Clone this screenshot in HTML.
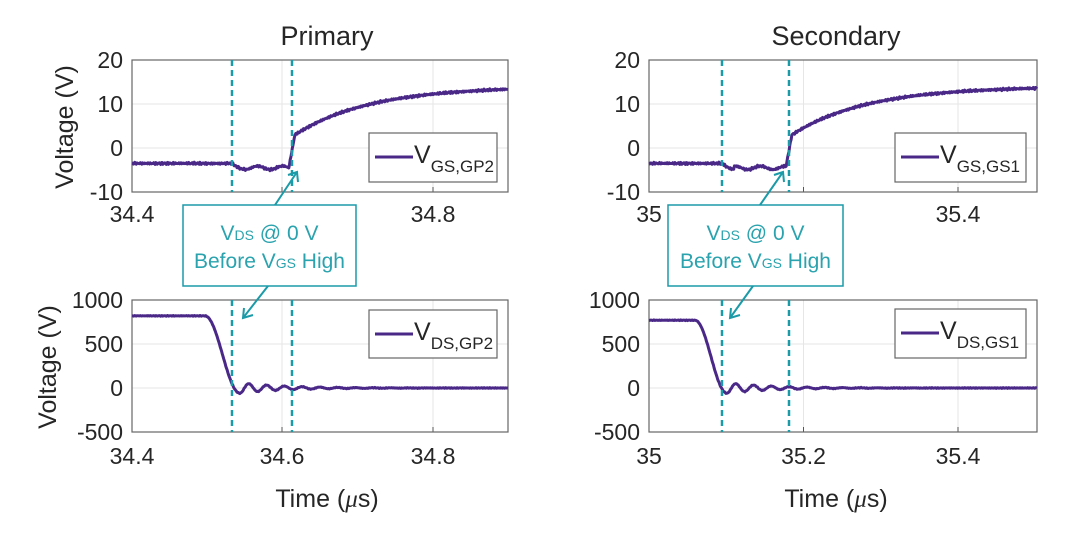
<!DOCTYPE html>
<html><head><meta charset="utf-8"><style>
body{margin:0;background:#fff;}
svg text{font-family:"Liberation Sans",sans-serif;fill:#262626;}
</style></head><body>
<svg id="s" width="1080" height="536" xmlns="http://www.w3.org/2000/svg">
<g id="g"></g>
</svg>
<script>
const g=document.getElementById('g');
let h='';
const P='#4a2888',T='#1b9aa8';
function panel(o){
 const {L,R,Tp,B,yt,xt,dash,legend,curve,ylab,xlab,title,xly}=o;
 yt.forEach(t=>{h+=`<line x1="${L}" x2="${R}" y1="${t[0]}" y2="${t[0]}" stroke="#e6e6e6"/>`;
  h+=`<text x="${L-9}" y="${t[0]+8}" font-size="23" text-anchor="end">${t[1]}</text>`;});
 xt.forEach(t=>{h+=`<line y1="${Tp}" y2="${B}" x1="${t[0]}" x2="${t[0]}" stroke="#e6e6e6"/>`;
  h+=`<line y1="${B}" y2="${B-5}" x1="${t[0]}" x2="${t[0]}" stroke="#555"/>`;
  h+=`<text x="${t[0]}" y="${xly}" font-size="23" text-anchor="middle">${t[1]}</text>`;});
 h+=`<rect x="${L}" y="${Tp}" width="${R-L}" height="${B-Tp}" fill="none" stroke="#666" stroke-width="1.2"/>`;
 let d='';
 for(let x=L;x<=R;x+=0.7){let y=curve(x);d+=(x==L?'M':'L')+x.toFixed(1)+' '+y.toFixed(1);}
 h+=`<path d="${d}" fill="none" stroke="${P}" stroke-width="3" stroke-linejoin="round"/>`;
 dash.forEach(x=>h+=`<line x1="${x}" x2="${x}" y1="${Tp}" y2="${B}" stroke="${T}" stroke-width="2.5" stroke-dasharray="6,4"/>`);
 const [lx,ly,lw,lh]=legend[0];
 h+=`<rect x="${lx}" y="${ly}" width="${lw}" height="${lh}" fill="#fff" stroke="#666" stroke-width="1.2"/>`;
 h+=`<line x1="${lx+6}" x2="${lx+44}" y1="${ly+24}" y2="${ly+24}" stroke="${P}" stroke-width="3"/>`;
 h+=`<text x="${lx+45}" y="${ly+30}" font-size="25">V<tspan font-size="17" dy="9">${legend[1]}</tspan></text>`;
 if(ylab)h+=`<text transform="translate(${ylab[0]},${ylab[1]}) rotate(-90)" font-size="25" text-anchor="middle">Voltage (V)</text>`;
 if(xlab)h+=`<text x="${xlab[0]}" y="${xlab[1]}" font-size="25" text-anchor="middle">Time (<tspan font-style="italic" font-family="Liberation Serif">μ</tspan>s)</text>`;
 if(title)h+=`<text x="${title[0]}" y="${title[1]}" font-size="27" text-anchor="middle" fill="#111">${title[2]}</text>`;
}
function rnd(x){return Math.sin(x*2.3)*0.5+Math.sin(x*5.7)*0.4+Math.sin(x*11.1)*0.3;}
function gsCurve(Tp,B,d1,d2){
 const sc=(B-Tp)/30;
 return x=>{let v;
  if(x<d1)v=-3.5;
  else if(x<d1+12)v=-3.5-1.3*Math.sin((x-d1)/12*Math.PI/2);
  else if(x<d2-3)v=-4.5+0.4*Math.sin(x/4);
  else if(x<d2+3)v=-4.3+(x-d2+3)/6*7.5;
  else v=14-11*Math.exp(-(x-d2-3)/75);
  v+=0.25*rnd(x);
  return Tp+(20-v)*sc;};
}
function dsCurve(Tp,B,vhi,xs,xe){
 const sc=(B-Tp)/1500;
 return x=>{let v;
  if(x<xs)v=vhi;
  else if(x<xe)v=-60+(vhi+60)*(0.5+0.5*Math.cos((x-xs)/(xe-xs)*Math.PI));
  else v=-60*Math.exp(-(x-xe)/45)*Math.cos((x-xe)/8*Math.PI*0.9);
  v+=4*rnd(x);
  return Tp+(1000-v)*sc;};
}
const YT=[[60,'20'],[104,'10'],[148,'0'],[192,'-10']];
const YB=[[300,'1000'],[344,'500'],[388,'0'],[432,'-500']];
// Primary
panel({L:132,R:508,Tp:60,B:192,xly:222,yt:YT,xt:[[132,'34.4'],[282,''],[433,'34.8']],
 dash:[232,292],legend:[[369,133,128,49],'GS,GP2'],curve:gsCurve(60,192,232,292),ylab:[73,127],title:[327,45,'Primary']});
panel({L:132,R:508,Tp:300,B:432,xly:464,yt:YB,xt:[[132,'34.4'],[282,'34.6'],[433,'34.8']],
 dash:[232,292],legend:[[369,310,128,48],'DS,GP2'],curve:dsCurve(300,432,820,205,240),ylab:[56,367],xlab:[327,507]});
// Secondary
panel({L:649,R:1037,Tp:60,B:192,xly:222,yt:YT,xt:[[649,'35'],[803.5,''],[958,'35.4']],
 dash:[722,789],legend:[[895,133,131,49],'GS,GS1'],curve:gsCurve(60,192,722,789),title:[836,45,'Secondary']});
panel({L:649,R:1037,Tp:300,B:432,xly:464,yt:YB,xt:[[649,'35'],[803.5,'35.2'],[958,'35.4']],
 dash:[722,789],legend:[[895,309,131,49],'DS,GS1'],curve:dsCurve(300,432,770,695,727),xlab:[836,507]});
// annotations
function ann(x,y,w,hh,t1,a1,t2,a2){
 h+=`<rect x="${x}" y="${y}" width="${w}" height="${hh}" fill="#fff" stroke="${T}" stroke-width="1.5"/>`;
 h+=`<text x="${x+w/2}" y="${y+35}" font-size="21" text-anchor="middle" style="fill:#2aa3ae">V<tspan font-size="14">DS</tspan> @ 0 V</text>`;
 h+=`<text x="${x+w/2}" y="${y+63}" font-size="21" text-anchor="middle" style="fill:#2aa3ae">Before V<tspan font-size="14">GS</tspan> High</text>`;
 h+=`<line x1="${t1}" y1="${y}" x2="${a1[0]}" y2="${a1[1]}" stroke="${T}" stroke-width="2"/>`;
 h+=`<path d="M${a1[0]-9} ${a1[1]+3} L${a1[0]} ${a1[1]} L${a1[0]+1} ${a1[1]+10}" fill="none" stroke="${T}" stroke-width="2"/>`;
 h+=`<line x1="${t2}" y1="${y+hh}" x2="${a2[0]}" y2="${a2[1]}" stroke="${T}" stroke-width="2"/>`;
 h+=`<path d="M${a2[0]+1} ${a2[1]-10} L${a2[0]} ${a2[1]} L${a2[0]+10} ${a2[1]-3}" fill="none" stroke="${T}" stroke-width="2"/>`;
}
ann(183,205,173,81,275,[297,172],268,[243,318]);
ann(668,205,175,81,760,[783,172],753,[730,318]);
g.innerHTML=h;
</script>
</body></html>
